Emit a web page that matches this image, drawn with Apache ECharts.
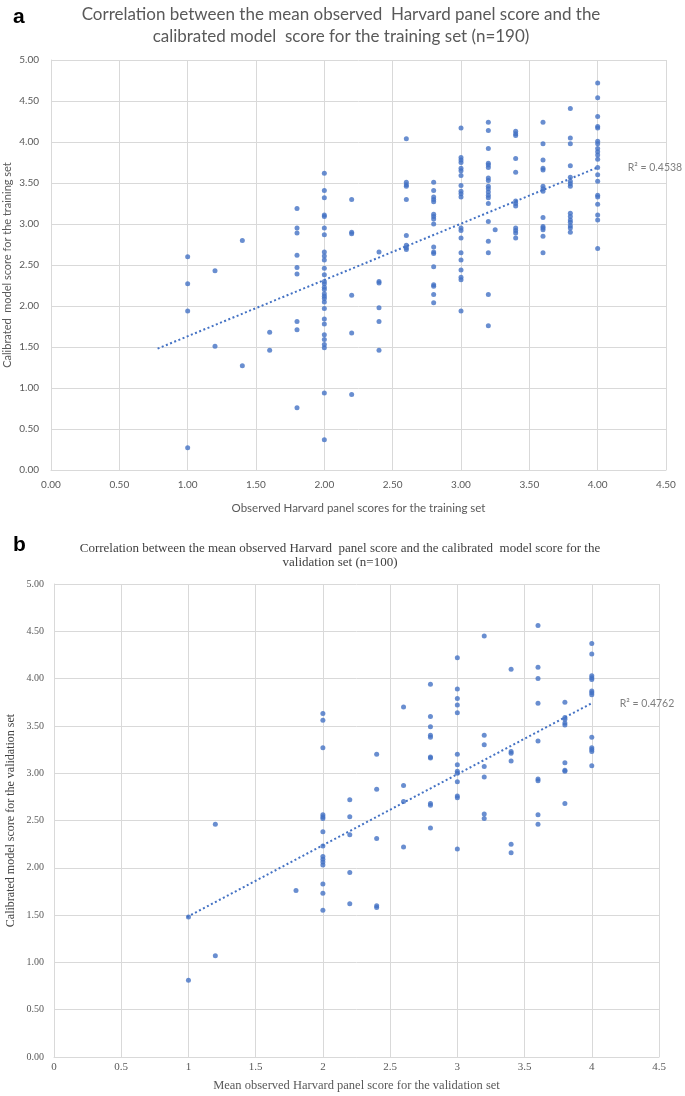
<!DOCTYPE html>
<html lang="en">
<head>
    <meta charset="UTF-8">
    <title>Harvard panel score correlation</title>
    <style>
        * { box-sizing: border-box; margin: 0; padding: 0; }
        body { background: #fff; }
        #chart { width: 685px; height: 1096px; }
    </style>
</head>
<body>
    <div id="chart"></div>
    <script src="https://cdn.jsdelivr.net/npm/echarts@6/dist/echarts.min.js"></script>
    <script>
    // training set: observed panel score columns and the model scores read at each column
    const trainObserved = [1.0, 1.2, 1.4, 1.6, 1.8, 2.0, 2.2, 2.4, 2.6, 2.8, 3.0, 3.2, 3.25, 3.4, 3.6, 3.8, 4.0];
    const trainModel = [
        [2.60, 2.27, 1.94, 0.27],
        [2.43, 1.51],
        [2.80, 1.27],
        [1.68, 1.46],
        [3.19, 2.95, 2.89, 2.62, 2.47, 2.39, 1.81, 1.71, 0.76],
        [3.62, 3.41, 3.32, 3.11, 3.09, 2.95, 2.87, 2.66, 2.61, 2.56, 2.46, 2.38, 2.30, 2.27, 2.23, 2.20, 2.15, 2.12, 2.09, 2.05, 1.97, 1.84, 1.78, 1.65, 1.59, 1.53, 1.49, 0.94, 0.37],
        [3.30, 2.90, 2.88, 2.13, 1.67, 0.92],
        [2.66, 2.30, 2.28, 1.98, 1.81, 1.46],
        [4.04, 3.51, 3.48, 3.46, 3.30, 2.86, 2.74, 2.71, 2.69],
        [3.51, 3.41, 3.33, 3.30, 3.27, 3.12, 3.09, 3.06, 3.00, 2.72, 2.66, 2.64, 2.48, 2.26, 2.24, 2.14, 2.04],
        [4.17, 3.81, 3.78, 3.75, 3.68, 3.65, 3.59, 3.47, 3.40, 3.37, 3.33, 2.95, 2.92, 2.83, 2.65, 2.56, 2.44, 2.35, 2.32, 1.94],
        [4.24, 4.14, 3.92, 3.74, 3.72, 3.69, 3.56, 3.53, 3.46, 3.43, 3.39, 3.35, 3.32, 3.25, 3.03, 2.79, 2.65, 2.14, 1.76],
        [2.93],
        [4.13, 4.10, 4.08, 3.80, 3.63, 3.28, 3.25, 3.22, 2.95, 2.92, 2.89, 2.83],
        [4.24, 3.98, 3.78, 3.68, 3.66, 3.46, 3.43, 3.40, 3.08, 2.97, 2.95, 2.93, 2.85, 2.65],
        [4.41, 4.05, 3.98, 3.71, 3.57, 3.52, 3.49, 3.46, 3.13, 3.09, 3.05, 3.02, 2.98, 2.95, 2.90],
        [4.72, 4.54, 4.31, 4.19, 4.17, 4.01, 3.98, 3.92, 3.88, 3.84, 3.79, 3.69, 3.60, 3.52, 3.35, 3.33, 3.24, 3.11, 3.05, 2.70]
    ];
    const trainTrendX = [0.78, 4.0];
    const trainTrendY = [1.48, 3.69];
    const trainR2 = 'R² = 0.4538';

    // validation set
    const validObserved = [1.0, 1.2, 1.8, 2.0, 2.2, 2.4, 2.6, 2.8, 3.0, 3.2, 3.4, 3.6, 3.8, 4.0];
    const validModel = [
        [1.48, 0.81],
        [2.46, 1.07],
        [1.76],
        [3.63, 3.56, 3.27, 2.56, 2.54, 2.52, 2.38, 2.23, 2.12, 2.09, 2.06, 2.03, 1.83, 1.73, 1.55],
        [2.72, 2.54, 2.35, 1.95, 1.62],
        [3.20, 2.83, 2.31, 1.60, 1.58],
        [3.70, 2.87, 2.70, 2.22],
        [3.94, 3.60, 3.49, 3.40, 3.38, 3.17, 3.16, 2.68, 2.66, 2.42],
        [4.22, 3.89, 3.79, 3.72, 3.64, 3.20, 3.09, 3.02, 3.00, 2.91, 2.76, 2.74, 2.20],
        [4.45, 3.40, 3.30, 3.07, 2.96, 2.57, 2.52],
        [4.10, 3.23, 3.21, 3.13, 2.25, 2.16],
        [4.56, 4.12, 4.00, 3.74, 3.34, 2.94, 2.92, 2.56, 2.46],
        [3.75, 3.59, 3.57, 3.53, 3.51, 3.11, 3.03, 3.02, 2.68],
        [4.37, 4.26, 4.03, 4.01, 3.99, 3.87, 3.85, 3.83, 3.38, 3.27, 3.25, 3.23, 3.08]
    ];
    const validTrendX = [0.99, 4.0];
    const validTrendY = [1.48, 3.74];
    const validR2 = 'R² = 0.4762';

    const BLUE = '#4472c4';
    const GRID = '#d9d9d9';
    const SANS = 'Lato, "Open Sans", sans-serif';
    const SERIF = '"Liberation Serif", "DejaVu Serif", serif';

    const toPoints = (xs, ys) => xs.flatMap((x, i) => ys[i].map(y => [x, y]));
    const toPairs = (xs, ys) => xs.map((x, i) => [x, ys[i]]);

    const axisCommon = {
        type: 'value',
        interval: 0.5,
        min: 0,
        nameMoveOverlap: false,
        axisLine: { show: true, lineStyle: { color: GRID } },
        axisTick: { show: false },
        splitLine: { show: true, lineStyle: { color: GRID, width: 1 } }
    };

    const trendSeries = (xi, xs, ys, label, dist) => ({
        type: 'line', xAxisIndex: xi, yAxisIndex: xi, symbol: 'none', z: 1,
        lineStyle: { color: BLUE, width: 2, type: [2, 2.5] },
        endLabel: {
            show: true, formatter: label, distance: dist,
            color: '#7f7f7f', fontSize: 10.5, fontFamily: SANS
        },
        data: toPairs(xs, ys)
    });

    const chart = echarts.init(document.getElementById('chart'));
    chart.setOption({
        animation: false,
        title: [
            {
                text: 'a', left: 8, top: 2,
                textStyle: { fontSize: 21, fontWeight: 'bold', color: '#000', fontFamily: 'Arial, "Liberation Sans", sans-serif' }
            },
            {
                text: 'Correlation between the mean observed  Harvard panel score and the\ncalibrated model  score for the training set (n=190)',
                left: 336, top: -1, textAlign: 'center',
                textStyle: { fontSize: 17, fontWeight: 'normal', color: '#595959', fontFamily: SANS, lineHeight: 22 }
            },
            {
                text: 'b', left: 8, top: 530,
                textStyle: { fontSize: 21, fontWeight: 'bold', color: '#000', fontFamily: 'Arial, "Liberation Sans", sans-serif' }
            },
            {
                text: 'Correlation between the mean observed Harvard  panel score and the calibrated  model score for the\nvalidation set (n=100)',
                left: 335, top: 537, textAlign: 'center',
                textStyle: { fontSize: 13, fontWeight: 'normal', color: '#404040', fontFamily: SERIF, lineHeight: 14 }
            }
        ],
        grid: [
            { left: 51, top: 60, width: 615, height: 410, outerBoundsMode: 'none', containLabel: false },
            { left: 54, top: 584, width: 605, height: 473, outerBoundsMode: 'none', containLabel: false }
        ],
        xAxis: [
            Object.assign({}, axisCommon, {
                gridIndex: 0, max: 4.5,
                name: 'Observed Harvard panel scores for the training set',
                nameLocation: 'middle', nameGap: 32,
                nameTextStyle: { color: '#595959', fontSize: 11.5, fontFamily: SANS },
                axisLabel: { color: '#595959', fontSize: 10, fontFamily: SANS, margin: 10, formatter: v => v.toFixed(2) }
            }),
            Object.assign({}, axisCommon, {
                gridIndex: 1, max: 4.5,
                name: 'Mean observed Harvard panel score for the validation set',
                nameLocation: 'middle', nameGap: 22,
                nameTextStyle: { color: '#595959', fontSize: 12.5, fontFamily: SERIF },
                axisLabel: { color: '#595959', fontSize: 11, fontFamily: SERIF, margin: 5 }
            })
        ],
        yAxis: [
            Object.assign({}, axisCommon, {
                gridIndex: 0, max: 5,
                name: 'Calibrated  model score for the training set',
                nameLocation: 'middle', nameGap: 38, nameRotate: 90,
                nameTextStyle: { color: '#595959', fontSize: 11, fontFamily: SANS },
                axisLabel: { color: '#595959', fontSize: 10, fontFamily: SANS, margin: 12, formatter: v => v.toFixed(2) }
            }),
            Object.assign({}, axisCommon, {
                gridIndex: 1, max: 5,
                name: 'Calibrated model score for the validation set',
                nameLocation: 'middle', nameGap: 37, nameRotate: 90,
                nameTextStyle: { color: '#404040', fontSize: 12, fontFamily: SERIF },
                axisLabel: { color: '#595959', fontSize: 10, fontFamily: SERIF, margin: 10, formatter: v => v.toFixed(2) }
            })
        ],
        series: [
            trendSeries(0, trainTrendX, trainTrendY, trainR2, 30),
            {
                type: 'scatter', xAxisIndex: 0, yAxisIndex: 0, z: 2,
                symbolSize: 5, itemStyle: { color: BLUE },
                data: toPoints(trainObserved, trainModel)
            },
            trendSeries(1, validTrendX, validTrendY, validR2, 28),
            {
                type: 'scatter', xAxisIndex: 1, yAxisIndex: 1, z: 2,
                symbolSize: 5, itemStyle: { color: BLUE },
                data: toPoints(validObserved, validModel)
            }
        ]
    });
    window.addEventListener('resize', () => chart.resize());
    </script>
</body>
</html>
